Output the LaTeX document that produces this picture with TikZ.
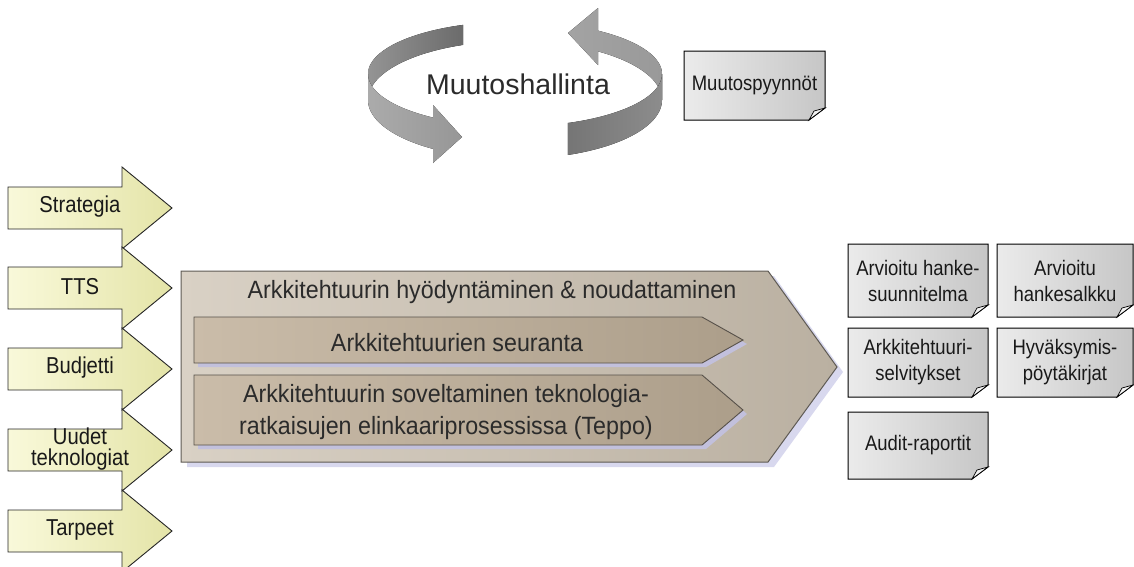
\documentclass[tikz,border=0pt]{standalone}
\usepackage{fontspec}
\setmainfont{Liberation Sans}
\newfontfamily\narrowfont[FakeStretch=0.88]{Liberation Sans}
\newfontfamily\panelfont[FakeStretch=0.93]{Liberation Sans}
\usetikzlibrary{backgrounds}

\definecolor{inL}{HTML}{F9F9DA}
\definecolor{inR}{HTML}{E4E4A8}
\definecolor{tanL}{HTML}{D9D1C5}
\definecolor{tanR}{HTML}{BAB0A1}
\definecolor{tanEdge}{HTML}{5E5A54}
\definecolor{subL}{HTML}{CABCA9}
\definecolor{subR}{HTML}{AC9E8A}
\definecolor{subEdge}{HTML}{57514A}
\definecolor{shadeBig}{HTML}{D8D8EE}
\definecolor{shadeSub}{HTML}{C2C0DC}
\definecolor{docL}{HTML}{EBEBEB}
\definecolor{docR}{HTML}{C6C6C6}
\definecolor{docFoldC}{HTML}{F2F2F2}
\definecolor{textGray}{HTML}{2B2B2B}

% a folded sheet drawn behind a named text node
\newcommand\docsheet[1]{%
  \begin{pgfonlayer}{background}
    \path[docfill] (#1.north west) -- (#1.north east) -- ([yshift=12pt]#1.south east)
      -- ([xshift=-16pt]#1.south east) -- (#1.south west) -- cycle;
    \path[docfold] ([xshift=-16pt]#1.south east) -- ([xshift=-11pt,yshift=9pt]#1.south east)
      -- ([yshift=12pt]#1.south east) -- cycle;
  \end{pgfonlayer}}

\tikzset{
  every node/.style={inner sep=0pt, outer sep=0pt},
  inarrow/.style={draw=black!85, line width=0.9pt, left color=inL, right color=inR},
  intext/.style={font=\narrowfont\fontsize{23}{21}\selectfont, align=center, text=black!90},
  bigarrow/.style={draw=tanEdge, line width=1pt, left color=tanL, right color=tanR},
  subarrow/.style={draw=subEdge, line width=0.9pt, left color=subL, right color=subR},
  paneltext/.style={font=\panelfont\fontsize{25}{32}\selectfont, align=center, text=textGray},
  doc/.style={align=center, font=\narrowfont\fontsize{21}{26}\selectfont, text=black!90},
  docfill/.style={draw=black, line width=1pt, left color=docL, right color=docR},
  docfold/.style={draw=black, line width=0.7pt, fill=docFoldC},
  ringtext/.style={font=\fontsize{28.5}{30}\selectfont, text=textGray},
}

\begin{document}
\begin{tikzpicture}[x=1pt, y=-1pt]
\useasboundingbox (0,0) rectangle (1134,566);
\begin{pgfonlayer}{background}
  \fill[white] (0,0) rectangle (1134,566);
\end{pgfonlayer}

% ---- change-management ring: two ribbon arrows around an ellipse ----
% upper ribbon edge: centre (515,74), radii 147/52.5; lower edge: centre (515,100), radii 147/58.9
\fill[left color=black!42, right color=black!58]
  plot[domain=249.3:180, samples=40, variable=\t] ({515+147*cos(\t)},{74+52.5*sin(\t)})
  -- plot[domain=180:249.3, samples=40, variable=\t] ({515+147*cos(\t)},{100+58.9*sin(\t)})
  -- cycle;
\fill[left color=black!33, right color=black!41]
  plot[domain=180:123.9, samples=40, variable=\t] ({515+147*cos(\t)},{74+52.5*sin(\t)})
  -- (433,105) -- (462,137) -- (433,163)
  -- plot[domain=123.9:180, samples=40, variable=\t] ({515+147*cos(\t)},{100+58.9*sin(\t)})
  -- cycle;
\fill[left color=black!36, right color=black!40]
  plot[domain=360:304.4, samples=40, variable=\t] ({515+147*cos(\t)},{74+52.5*sin(\t)})
  -- (598,8) -- (568,33) -- (598,65)
  -- plot[domain=304.4:360, samples=40, variable=\t] ({515+147*cos(\t)},{100+58.9*sin(\t)})
  -- cycle;
\fill[left color=black!54, right color=black!45]
  plot[domain=0:68.9, samples=40, variable=\t] ({515+147*cos(\t)},{74+52.5*sin(\t)})
  -- plot[domain=68.9:0, samples=40, variable=\t] ({515+147*cos(\t)},{100+58.9*sin(\t)})
  -- cycle;
\node[ringtext] (ring) at (518,84) {Muutoshallinta};

\node[doc, minimum width=141pt, minimum height=69pt] (requests) at (754.5,85.5) {Muutospyynnöt};
\docsheet{requests}

% ---- inputs on the left ----
\foreach \nm/\cy/\txt in {strat/208/Strategia, tts/288/TTS, budget/369/Budjetti,
                          newtech/450/{Uudet\\teknologiat}, needs/531/Tarpeet} {
  \path[inarrow] (8,\cy-21) -- (122,\cy-21) -- (122,\cy-41) -- (172,\cy)
    -- (122,\cy+41) -- (122,\cy+21) -- (8,\cy+21) -- cycle;
  \node[intext] (\nm) at (80,\cy-1) {\txt};
}

% ---- central process arrow ----
\fill[shadeBig] (187,276) -- (774,276) -- (843,372) -- (774,467) -- (187,467) -- cycle;
\path[bigarrow] (181,271) -- (768,271) -- (837,367) -- (768,462) -- (181,462) -- cycle;
\node[paneltext, anchor=base] (use) at (492,298) {Arkkitehtuurin hyödyntäminen \& noudattaminen};

\fill[shadeSub] (198,321) -- (706,321) -- (747,344) -- (706,367) -- (198,367) -- cycle;
\path[subarrow] (194,317) -- (702,317) -- (743,340) -- (702,363) -- (194,363) -- cycle;
\node[paneltext, anchor=base] (monitor) at (457,351) {Arkkitehtuurien seuranta};

\fill[shadeSub] (198,379) -- (706,379) -- (747,414) -- (706,449) -- (198,449) -- cycle;
\path[subarrow] (194,375) -- (702,375) -- (743,410) -- (702,445) -- (194,445) -- cycle;
\node[paneltext] (apply) at (446,412) {Arkkitehtuurin soveltaminen teknologia-\\ratkaisujen elinkaariprosessissa (Teppo)};

% ---- outputs on the right ----
\node[doc, minimum width=140pt, minimum height=73pt] (plan) at (918,280.5) {Arvioitu hanke-\\suunnitelma};
\node[doc, minimum width=136pt, minimum height=73pt] (portfolio) at (1065,280.5) {Arvioitu\\hankesalkku};
\node[doc, minimum width=140pt, minimum height=69pt] (studies) at (918,362.5) {Arkkitehtuuri-\\selvitykset};
\node[doc, minimum width=136pt, minimum height=69pt] (minutes) at (1065,362.5) {Hyväksymis-\\pöytäkirjat};
\node[doc, minimum width=140pt, minimum height=67pt] (audit) at (918,445.5) {Audit-raportit};
\docsheet{plan}
\docsheet{portfolio}
\docsheet{studies}
\docsheet{minutes}
\docsheet{audit}
\end{tikzpicture}
\end{document}
